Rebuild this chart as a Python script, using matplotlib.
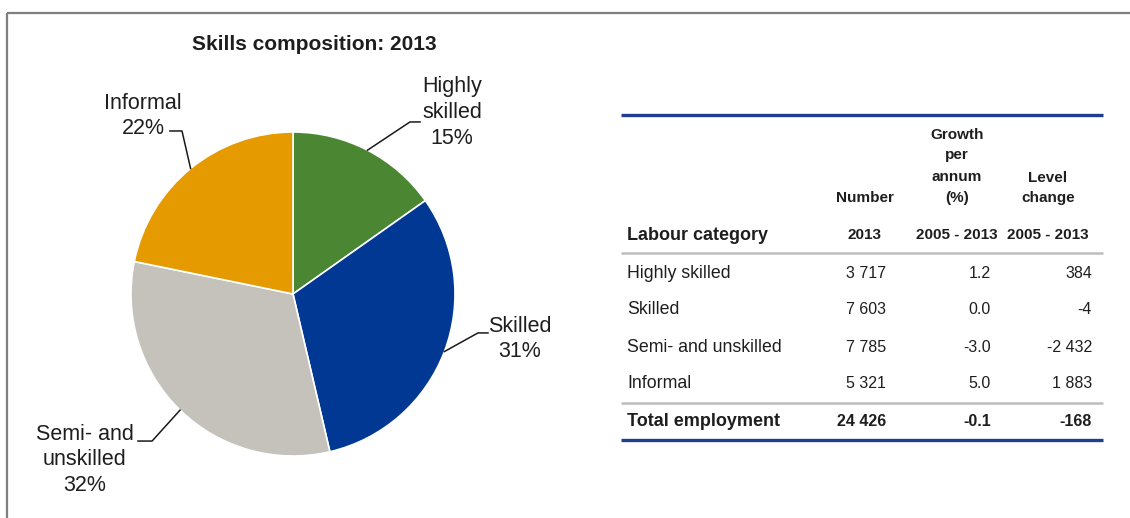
import matplotlib
matplotlib.use("Agg")
import matplotlib.pyplot as plt
import numpy as np

plt.rcParams['font.family'] = ['Liberation Sans', 'DejaVu Sans']

# Labour categories and figures for 2013
categories = ['Highly skilled', 'Skilled', 'Semi- and unskilled', 'Informal']
pie_labels = ['Highly\nskilled', 'Skilled', 'Semi- and\nunskilled', 'Informal']
number_2013 = [3717, 7603, 7785, 5321]
growth_pa = [1.2, 0.0, -3.0, 5.0]
level_change = [384, -4, -2432, 1883]
total_number = 24426
total_growth = -0.1
total_change = -168

colors = ['#4B8733', '#003893', '#C5C2BB', '#E59B00']
TXT = '#1e1e1e'
W, H = 1130, 518


def fmt_int(v):
    # space as thousands separator, as used in the table
    s = f"{abs(v):,}".replace(',', ' ')
    return ('-' if v < 0 else '') + s


fig = plt.figure(figsize=(W / 100, H / 100), dpi=100)

# full-figure overlay in pixel coordinates (frame and table)
bg = fig.add_axes([0, 0, 1, 1])
bg.set_xlim(0, W)
bg.set_ylim(H, 0)
bg.axis('off')

# frame lines
bg.plot([7, W], [13, 13], color='#7f7f7f', lw=1.6, solid_capstyle='butt')
bg.plot([7, 7], [13, H], color='#7f7f7f', lw=1.6, solid_capstyle='butt')

# ---- pie chart ----
cx, cy, R = 293, 294, 170
pax = fig.add_axes([(cx - R) / W, (H - cy - R) / H, 2 * R / W, 2 * R / H])
pax.axis('off')

radius = 162 / 170
wedges, _ = pax.pie(number_2013, colors=colors, startangle=90, counterclock=False,
                    radius=radius, wedgeprops=dict(edgecolor='white', linewidth=1.2))
pax.set_xlim(-1, 1)
pax.set_ylim(-1, 1)
pax.set_aspect('equal')

fig.text(314 / W, 1 - 45 / H, 'Skills composition: 2013', ha='center', va='center',
         fontsize=15, fontweight='bold', color=TXT)

# leader elbows, line ends and text centres (pie axes units)
elbows = [(0.688, 1.012), (1.088, -0.229), (-0.829, -0.865), (-0.653, 0.959)]
ends = [(0.747, 1.012), (1.147, -0.229), (-0.912, -0.865), (-0.724, 0.959)]
text_pos = [(0.935, 1.068), (1.335, -0.265), (-1.224, -0.976), (-0.882, 1.047)]

total = sum(number_2013)
for w, lab, v, el, en, tp in zip(wedges, pie_labels, number_2013, elbows, ends, text_pos):
    ang = np.deg2rad((w.theta1 + w.theta2) / 2)
    ex, ey = radius * np.cos(ang), radius * np.sin(ang)
    pax.plot([ex, el[0], en[0]], [ey, el[1], en[1]], color='#1a1a1a', lw=1.1,
             clip_on=False)
    pct = round(v / total * 100)
    pax.text(tp[0], tp[1], f"{lab}\n{pct}%", ha='center', va='center', fontsize=15.5,
             color=TXT, linespacing=1.3, clip_on=False)

# ---- table ----
x0, x1 = 621, 1103
bg.plot([x0, x1], [115, 115], color='#1F3E8F', lw=2.4, solid_capstyle='butt')
bg.plot([x0, x1], [253, 253], color='#BDBDBD', lw=1.8, solid_capstyle='butt')
bg.plot([x0, x1], [403, 403], color='#BDBDBD', lw=1.8, solid_capstyle='butt')
bg.plot([x0, x1], [440, 440], color='#1F3E8F', lw=2.4, solid_capstyle='butt')

hfs = 11
nfs = 11.5
col_c = [865, 957, 1048]
col_r = [886, 991, 1092]
bg.text(col_c[0], 198, 'Number', ha='center', va='center', fontsize=hfs,
        fontweight='bold', color=TXT)
for txt, y in zip(['Growth', 'per', 'annum', '(%)'], [135, 155, 177, 198]):
    bg.text(col_c[1], y, txt, ha='center', va='center', fontsize=hfs,
            fontweight='bold', color=TXT)
for txt, y in zip(['Level', 'change'], [178, 198]):
    bg.text(col_c[2], y, txt, ha='center', va='center', fontsize=hfs,
            fontweight='bold', color=TXT)

bg.text(627, 235, 'Labour category', ha='left', va='center', fontsize=13,
        fontweight='bold', color=TXT)
for xc, txt in zip(col_c, ['2013', '2005 - 2013', '2005 - 2013']):
    bg.text(xc, 235, txt, ha='center', va='center', fontsize=hfs,
            fontweight='bold', color=TXT)

row_y = [273, 310, 347, 383]
for y, name, n, g, lc in zip(row_y, categories, number_2013, growth_pa, level_change):
    bg.text(627, y, name, ha='left', va='center', fontsize=12.8, color=TXT)
    bg.text(col_r[0], y, fmt_int(n), ha='right', va='center', fontsize=nfs, color=TXT)
    bg.text(col_r[1], y, f"{g:.1f}", ha='right', va='center', fontsize=nfs, color=TXT)
    bg.text(col_r[2], y, fmt_int(lc), ha='right', va='center', fontsize=nfs, color=TXT)

yt = 422
bg.text(627, yt, 'Total employment', ha='left', va='center', fontsize=13,
        fontweight='bold', color=TXT)
bg.text(col_r[0], yt, fmt_int(total_number), ha='right', va='center', fontsize=nfs,
        fontweight='bold', color=TXT)
bg.text(col_r[1], yt, f"{total_growth:.1f}", ha='right', va='center', fontsize=nfs,
        fontweight='bold', color=TXT)
bg.text(col_r[2], yt, fmt_int(total_change), ha='right', va='center', fontsize=nfs,
        fontweight='bold', color=TXT)

fig.savefig('out.png', dpi=100, facecolor='white')
